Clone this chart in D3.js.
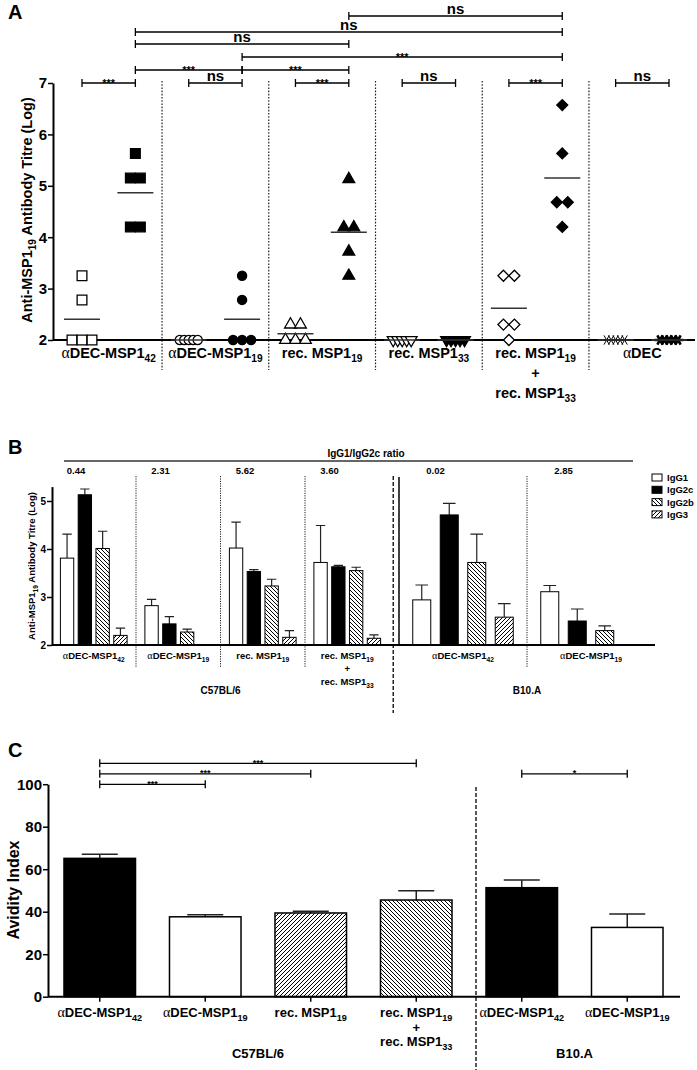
<!DOCTYPE html>
<html><head><meta charset="utf-8">
<script src="https://cdn.jsdelivr.net/npm/d3@7"></script>
<style>
body{margin:0;background:#fff}
svg{display:block}
text{font-family:"Liberation Sans",Arial,sans-serif;font-weight:bold;fill:#000}
</style></head><body>
<svg id="fig" width="697" height="1070"></svg>
<script>
// ================= DATA =================
// Panel A : individual log titres (open / filled columns per immunisation group)
const groupsA = ["αDEC-MSP1_42","αDEC-MSP1_19","rec. MSP1_19","rec. MSP1_33","rec. MSP1_19\n+\nrec. MSP1_33","αDEC"];
const openA   = [[3.25,2.78,2,2,2],[2,2,2,2,2],[2.3,2.3,2,2,2],[2,2,2,2,2],[3.25,3.25,2.3,2.3,2],[2,2,2,2,2]];
const filledA = [[5.63,5.15,5.15,4.2,4.2],[3.25,2.78,2,2,2],[5.13,4.19,4.19,3.72,3.25],[2,2,2,2,2],[6.57,5.63,4.68,4.68,4.2],[2,2,2,2,2]];
const markersA = ["square","circle","triangle","triangleDown","diamond","asterisk"];
const ticksA = [2,3,4,5,6,7];
// significance brackets: [fromColumn, toColumn, label, level]
const bracketsA = [[0,1,"***",0],[2,3,"ns",0],[4,5,"***",0],[6,7,"ns",0],[8,9,"***",0],[10,11,"ns",0],
                   [1,3,"***",1],[3,5,"***",1],[3,9,"***",2],[1,5,"ns",3],[1,9,"ns",4],[5,9,"ns",5]];

// Panel B : IgG subclass titres
const groupsB = ["αDEC-MSP1_42","αDEC-MSP1_19","rec. MSP1_19","rec. MSP1_19\n+\nrec. MSP1_33","αDEC-MSP1_42","αDEC-MSP1_19"];
const strainsB = ["C57BL/6","C57BL/6","C57BL/6","C57BL/6","B10.A","B10.A"];
const isotypes = ["IgG1","IgG2c","IgG2b","IgG3"];
const titreB = [[3.81,5.13,4.01,2.20],[2.82,2.44,2.27,2.0],[4.02,3.53,3.23,2.16],[3.72,3.63,3.55,2.14],[2.94,4.71,3.72,2.58],[3.11,2.50,2.30,2.0]];
const semB   = [[0.50,0.12,0.36,0.15],[0.13,0.15,0.06,0],[0.54,0.04,0.14,0.14],[0.77,0.03,0.07,0.07],[0.31,0.24,0.59,0.28],[0.13,0.25,0.10,0]];
const ratioB = ["0.44","2.31","5.62","3.60","0.02","2.85"];
const ticksB = [2,3,4,5];

// Panel C : avidity index
const groupsC = ["αDEC-MSP1_42","αDEC-MSP1_19","rec. MSP1_19","rec. MSP1_19\n+\nrec. MSP1_33","αDEC-MSP1_42","αDEC-MSP1_19"];
const strainsC = ["C57BL/6","C57BL/6","C57BL/6","C57BL/6","B10.A","B10.A"];
const avidity = [65.1,37.6,39.4,45.5,51.3,32.6];
const avidityErr = [1.9,1.0,0.8,4.4,3.6,6.3];
const fillsC = ["black","white","fwd","back","black","white"];
const ticksC = [0,20,40,60,80,100];
const bracketsC = [[0,1,"***",0],[0,2,"***",1],[0,3,"***",2],[4,5,"*",1]];

// ================= HELPERS =================
const svg = d3.select("#fig");
const defs = svg.append("defs");
function hatch(id, d, sp){
  const p = defs.append("pattern").attr("id",id).attr("patternUnits","userSpaceOnUse").attr("width",sp).attr("height",sp);
  p.append("rect").attr("width",sp).attr("height",sp).attr("fill","white");
  p.append("path").attr("d",d).attr("stroke","#000").attr("stroke-width",1);
}
hatch("back","M-1,-1L5,5M-1,3L1,5M3,-1L5,1",4);
hatch("fwd","M-1,1L1,-1M-1,5L5,-1M3,5L5,3",4);
const fillOf = f => f==="fwd" ? "url(#fwd)" : f==="back" ? "url(#back)" : f;

function rich(g, x, y, str, size, opts={}){
  const lh = opts.lh || size*1.35;
  str.split("\n").forEach((line,i)=>{
    const t = g.append("text").attr("x",x).attr("y",y+i*lh)
      .attr("text-anchor",opts.anchor||"middle").attr("font-size",size);
    let pend = 0; const re=/(α)|_(\d+)|([^α_]+)/g; let m;
    while((m=re.exec(line))){
      if(m[1]){ t.append("tspan").attr("font-family","'Liberation Serif',serif").attr("font-weight","normal")
                 .attr("font-size",size*1.08).attr("dy",pend||null).text("α"); pend=0; }
      else if(m[2]){ t.append("tspan").attr("font-size",size*0.7).attr("dy",size*0.28+pend).text(m[2]); pend=-size*0.28; }
      else { t.append("tspan").attr("dy",pend||null).text(m[3]); pend=0; }
    }
  });
}
function bracket(g, x1, x2, y, label, size, off){
  g.append("path").attr("d",`M${x1},${y}H${x2}M${x1},${y-4}V${y+4}M${x2},${y-4}V${y+4}`)
   .attr("stroke","#000").attr("stroke-width",1.3).attr("fill","none");
  g.append("text").attr("x",(x1+x2)/2).attr("y",y+off).attr("text-anchor","middle").attr("font-size",size).text(label);
}
function vline(g,x,y1,y2,dash,w){
  g.append("line").attr("x1",x).attr("x2",x).attr("y1",y1).attr("y2",y2)
   .attr("stroke","#222").attr("stroke-width",w||1).attr("stroke-dasharray",dash||null);
}
function yAxis(g, scale, ticks, x, size){
  const ax = g.append("g").attr("transform",`translate(${x},0)`)
    .call(d3.axisLeft(scale).tickValues(ticks).tickSize(5).tickSizeOuter(0).tickFormat(d3.format("d")));
  ax.select(".domain").attr("stroke-width",2);
  ax.selectAll(".tick line").attr("stroke-width",1.5);
  ax.selectAll(".tick text").attr("font-size",size).attr("font-family",null).attr("x",-6);
  ax.attr("font-family",null);
}

// ================= PANEL A =================
const gA = svg.append("g");
gA.append("text").attr("x",8).attr("y",19).attr("font-size",20).text("A");
const yA = d3.scaleLinear().domain([2,7]).range([340,83]);
const xA = d3.scalePoint().domain(d3.range(12)).range([82,669]);
const levelYA = [83,70,57,44,32,16];
// group separators
for(let i=1;i<groupsA.length;i++){
  vline(gA,(xA(2*i-1)+xA(2*i))/2,81,370,"1.6,1.6",1.2);
}
yAxis(gA,yA,ticksA,53,15);
gA.append("line").attr("x1",53).attr("x2",695).attr("y1",yA(2)).attr("y2",yA(2)).attr("stroke","#000").attr("stroke-width",2);
const yT = gA.append("g").attr("transform","translate(32,210) rotate(-90)");
rich(yT,0,0,"Anti-MSP1_19 Antibody Titre (Log)",14.5);
// group labels
groupsA.forEach((lab,i)=>rich(gA,(xA(2*i)+xA(2*i+1))/2,358,lab,14.5,{lh:20}));

function sym(type){
  const s = {square:d3.symbolSquare,circle:d3.symbolCircle,triangle:d3.symbolTriangle,
    triangleDown:d3.symbolTriangle,diamond:d3.symbolSquare,asterisk:d3.symbolAsterisk}[type];
  const size = {square:95,circle:66,triangle:60,triangleDown:60,diamond:60,asterisk:80}[type];
  return d3.symbol().type(s).size(size)();
}
const rot = {triangleDown:180,diamond:45,asterisk:90};
const sizeA = {square:10,circle:9,triangle:10,triangleDown:10,diamond:11,asterisk:9};
function column(vals, col, type, filled){
  const x0 = xA(col);
  const byVal = d3.group(vals, v=>v);
  const pts = [];
  for(const [v,arr] of byVal){
    const k = arr.length, sp = k>=4 ? 4.5 : sizeA[type];
    arr.forEach((_,j)=>pts.push({v,dx:(j-(k-1)/2)*sp}));
  }
  gA.selectAll(null).data(pts).join("path")
    .attr("d",sym(type))
    .attr("transform",d=>`translate(${x0+d.dx},${yA(d.v)}) rotate(${rot[type]||0})`)
    .attr("fill", type==="asterisk" ? "none" : (filled?"#000":"#fff"))
    .attr("stroke","#000").attr("stroke-width", type==="asterisk" ? (filled?2.6:1) : 1.3);
  const m = d3.mean(vals);
  gA.append("line").attr("x1",x0-18).attr("x2",x0+18).attr("y1",yA(m)).attr("y2",yA(m))
    .attr("stroke","#333").attr("stroke-width",1.5);
}
groupsA.forEach((g,i)=>{
  column(openA[i],2*i,markersA[i],false);
  column(filledA[i],2*i+1,markersA[i],true);
});
bracketsA.forEach(([a,b,l,lev])=>{
  bracket(gA,xA(a),xA(b),levelYA[lev],l,l==="ns"?15:11,l==="ns"?-2.5:3.5);
});

// ================= PANEL B =================
const gB = svg.append("g");
gB.append("text").attr("x",8).attr("y",454).attr("font-size",20).text("B");
const yB = d3.scaleLinear().domain([2,5.3]).range([645,486.6]);
const outerC57 = d3.scaleBand().domain([0,1,2,3]).range([51.5,389.5]);
const outerB10 = d3.scaleBand().domain([4,5]).range([399,655]);
const outer = i => i<4 ? outerC57 : outerB10;
const innerC57 = d3.scaleBand().domain(isotypes).range([0,outerC57.bandwidth()]).paddingInner(0.25).paddingOuter(0.5);
const innerB10 = d3.scaleBand().domain(isotypes).range([0,outerB10.bandwidth()]).paddingInner(0.345).paddingOuter(0.5);
const inner = i => i<4 ? innerC57 : innerB10;
const fillB = {IgG1:"white",IgG2c:"black",IgG2b:"back",IgG3:"fwd"};
// separators
[1,2,3].forEach(i=>vline(gB,outerC57(i),476,668,"1.2,1.2",1));
vline(gB,outerB10(5),476,668,"1.2,1.2",1);
vline(gB,(outerC57.range()[1]+outerB10.range()[0])/2-1,476,713,"4,2",1.5);
yAxis(gB,yB,ticksB,52,10);
gB.append("line").attr("x1",outerB10.range()[0]).attr("x2",outerB10.range()[0]).attr("y1",477).attr("y2",645).attr("stroke","#000").attr("stroke-width",1.5);
const yTB = gB.append("g").attr("transform","translate(35,566) rotate(-90)");
rich(yTB,0,0,"Anti-MSP1_19 Antibody Titre (Log)",9.5);
titreB.forEach((row,i)=>{
  const ox = outer(i)(i), inn = inner(i), bw = inn.bandwidth();
  row.forEach((v,j)=>{
    if(v<=2) return;
    const x = ox+inn(isotypes[j]);
    if(semB[i][j]>0){
      const yt = yB(v+semB[i][j]);
      gB.append("path").attr("d",`M${x+bw/2},${yB(v)}V${yt}M${x+bw*0.15},${yt}H${x+bw*0.85}`)
        .attr("stroke","#222").attr("stroke-width",1.2).attr("fill","none");
    }
    gB.append("rect").attr("x",x).attr("width",bw).attr("y",yB(v)).attr("height",yB(2)-yB(v))
      .attr("fill",fillOf(fillB[isotypes[j]])).attr("stroke","#000").attr("stroke-width",1);
  });
  const xr = ox + (inn("IgG1")+inn("IgG2c")+bw)/2;
  gB.append("text").attr("x",xr).attr("y",474).attr("text-anchor","middle").attr("font-size",9.5).text(ratioB[i]);
  rich(gB, ox+outer(i).bandwidth()/2, 659, groupsB[i], 9.5, {lh:13});
});
gB.append("line").attr("x1",52).attr("x2",655).attr("y1",645).attr("y2",645).attr("stroke","#000").attr("stroke-width",1.8);
gB.append("line").attr("x1",64).attr("x2",633).attr("y1",461).attr("y2",461).attr("stroke","#333").attr("stroke-width",1.5);
gB.append("text").attr("x",366).attr("y",457).attr("text-anchor","middle").attr("font-size",10).text("IgG1/IgG2c ratio");
d3.groups(strainsB.map((s,i)=>({s,i})),d=>d.s).forEach(([s,arr])=>{
  const x1 = outer(arr[0].i)(arr[0].i), x2 = outer(arr[arr.length-1].i)(arr[arr.length-1].i)+outer(arr[0].i).bandwidth();
  gB.append("text").attr("x",(x1+x2)/2).attr("y",694).attr("text-anchor","middle").attr("font-size",10).text(s);
});
// legend
isotypes.forEach((t,j)=>{
  const y = 474+j*12.3;
  gB.append("rect").attr("x",652).attr("y",y).attr("width",10).attr("height",7)
    .attr("fill",fillOf(fillB[t])).attr("stroke","#000").attr("stroke-width",1);
  gB.append("text").attr("x",667).attr("y",y+7).attr("font-size",9.5).text(t);
});

// ================= PANEL C =================
const gC = svg.append("g");
gC.append("text").attr("x",8).attr("y",757).attr("font-size",20).text("C");
const yC = d3.scaleLinear().domain([0,100]).range([996.7,784.2]);
const xC = d3.scaleBand().domain(d3.range(6)).range([47,680]).paddingInner(0.322).paddingOuter(0.161);
const bwC = xC.bandwidth();
vline(gC,xC(4)-10,787,1070,"4,2",1.5);
avidity.forEach((v,i)=>{
  const x = xC(i), yt = yC(v+avidityErr[i]);
  gC.append("path").attr("d",`M${x+bwC/2},${yC(v)}V${yt}M${x+bwC/2-18},${yt}H${x+bwC/2+18}`)
    .attr("stroke","#222").attr("stroke-width",1.5).attr("fill","none");
  gC.append("rect").attr("x",x).attr("width",bwC).attr("y",yC(v)).attr("height",yC(0)-yC(v))
    .attr("fill",fillOf(fillsC[i])).attr("stroke","#000").attr("stroke-width",1.5);
  rich(gC,x+bwC/2,1017,groupsC[i],13,{lh:14.5});
});
yAxis(gC,yC,ticksC,48,15);
gC.append("line").attr("x1",48).attr("x2",680).attr("y1",yC(0)).attr("y2",yC(0)).attr("stroke","#000").attr("stroke-width",2);
// x ticks
avidity.forEach((v,i)=>gC.append("line").attr("x1",xC(i)+bwC/2).attr("x2",xC(i)+bwC/2).attr("y1",yC(0)).attr("y2",yC(0)+5).attr("stroke","#000").attr("stroke-width",1.5));
const yTC = gC.append("g").attr("transform","translate(19,890) rotate(-90)");
rich(yTC,0,0,"Avidity Index",16);
bracketsC.forEach(([a,b,l,lev])=>{
  bracket(gC,xC(a)+bwC/2,xC(b)+bwC/2,784.3-lev*10.5,l,9,2.5);
});
d3.groups(strainsC.map((s,i)=>({s,i})),d=>d.s).forEach(([s,arr])=>{
  const x1 = xC(arr[0].i), x2 = xC(arr[arr.length-1].i)+bwC;
  gC.append("text").attr("x",(x1+x2)/2).attr("y",1058).attr("text-anchor","middle").attr("font-size",13).text(s);
});
</script>
</body></html>
